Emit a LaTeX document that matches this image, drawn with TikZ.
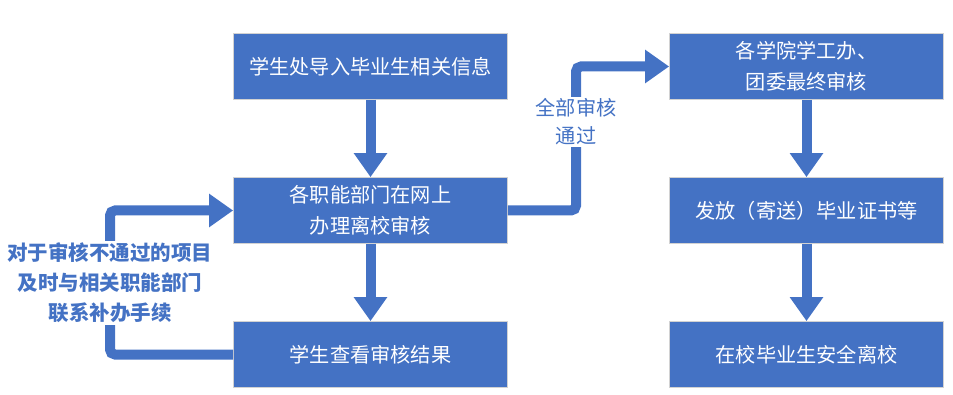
\documentclass[tikz,border=0pt]{standalone}
\usepackage{fontspec}
\setmainfont{Noto Sans CJK SC}
\usetikzlibrary{arrows.meta}
\definecolor{bl}{HTML}{4472C4}
\begin{document}
\begin{tikzpicture}[x=1pt,y=-1pt,
 box/.style={fill=bl, draw=gray!35, line width=0.8pt, minimum width=274pt, minimum height=66pt, text=white, font=\fontsize{20.2}{31}\selectfont, align=center, inner sep=0pt},
 flow/.style={draw=bl, line width=10pt, -{Triangle[length=24pt,width=32pt]}, rounded corners=5pt},
 lbl/.style={text=bl, font=\fontsize{20.2}{28}\selectfont, align=center, fill=white, inner sep=2pt}]
\useasboundingbox (0,0) rectangle (953,395);
\node[box] (a) at (370.5,66.5) {学生处导入毕业生相关信息};
\node[box] (b) at (370.5,210.5) {各职能部门在网上\\办理离校审核};
\node[box] (c) at (370.5,354.5) {学生查看审核结果};
\node[box] (d) at (806.5,66.5) {各学院学工办、\\团委最终审核};
\node[box] (e) at (806.5,210.5) {发放（寄送）毕业证书等};
\node[box] (f) at (806.5,354.5) {在校毕业生安全离校};
\draw[flow] (a) -- (b);
\draw[flow] (b) -- (c);
\draw[flow] (d) -- (e);
\draw[flow] (e) -- (f);
\draw[flow] (c.west) -- (110,354.5) |- (b.west);
\draw[flow] (b.east) -- (576,210.5) |- (d.west);
\node[lbl, font=\fontsize{20.5}{30}\selectfont\bfseries] (l1) at (110,283) {对于审核不通过的项目\\及时与相关职能部门\\联系补办手续};
\node[lbl] (l2) at (576,122) {全部审核\\通过};
\end{tikzpicture}
\end{document}
